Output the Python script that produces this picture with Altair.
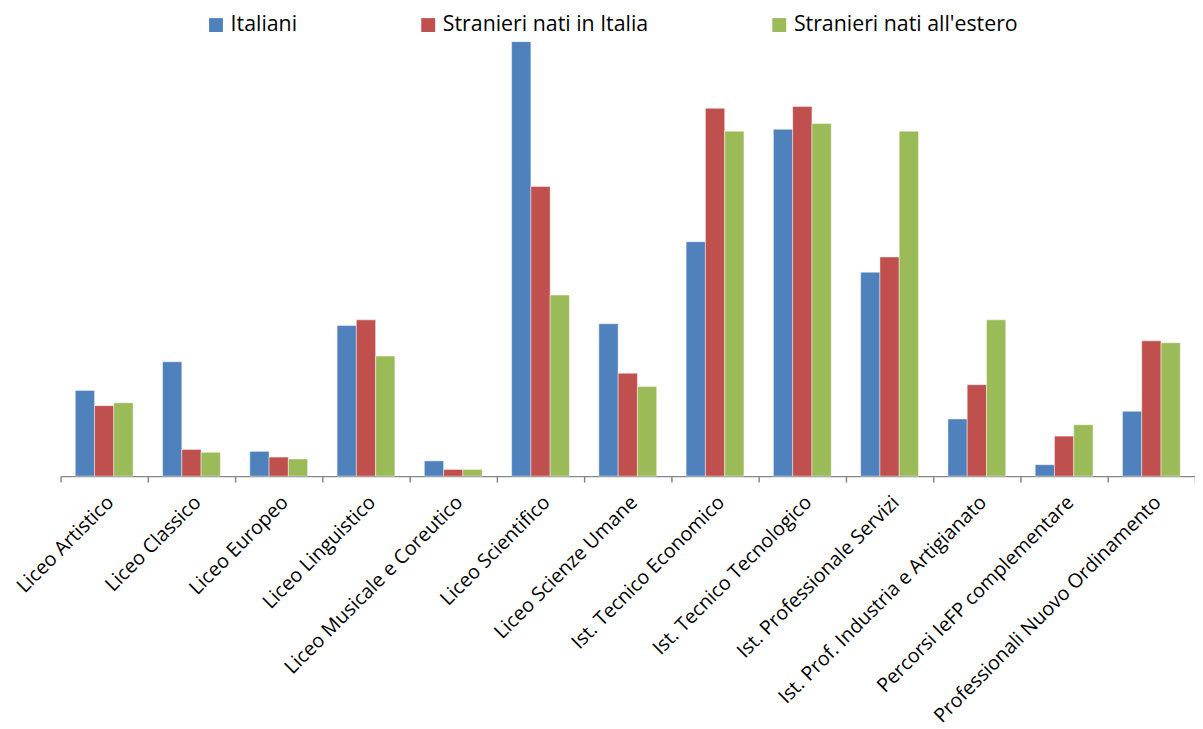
import altair as alt
import pandas as pd

categories = [
    "Liceo Artistico", "Liceo Classico", "Liceo Europeo", "Liceo Linguistico",
    "Liceo Musicale e Coreutico", "Liceo Scientifico", "Liceo Scienze Umane",
    "Ist. Tecnico Economico", "Ist. Tecnico Tecnologico", "Ist. Professionale Servizi",
    "Ist. Prof. Industria e Artigianato", "Percorsi IeFP complementare",
    "Professionali Nuovo Ordinamento",
]
series = ["Italiani", "Stranieri nati in Italia", "Stranieri nati all'estero"]
colors = ["#4F81BD", "#C0504D", "#9BBB59"]

italiani = [4.5, 6.0, 1.3, 7.9, 0.8, 22.8, 8.0, 12.3, 18.2, 10.7, 3.0, 0.6, 3.4]
stranieri_italia = [3.7, 1.4, 1.0, 8.2, 0.35, 15.2, 5.4, 19.3, 19.4, 11.5, 4.8, 2.1, 7.1]
stranieri_estero = [3.85, 1.25, 0.9, 6.3, 0.35, 9.5, 4.7, 18.1, 18.5, 18.1, 8.2, 2.7, 7.0]

rows = []
for vals, s in zip([italiani, stranieri_italia, stranieri_estero], series):
    for c, v in zip(categories, vals):
        rows.append({"categoria": c, "serie": s, "valore": v})
df = pd.DataFrame(rows)

FONT = "Open Sans"

chart = alt.Chart(df).mark_bar(
    stroke="white", strokeOpacity=0.45, strokeWidth=1
).encode(
    x=alt.X(
        "categoria:N", sort=categories, title=None,
        scale=alt.Scale(paddingInner=0, paddingOuter=0),
        axis=alt.Axis(
            labelAngle=-45, labelAlign="right", labelBaseline="middle",
            labelFont=FONT, labelFontSize=19.8, labelColor="#000000",
            labelPadding=17, labelOffset=6, labelLimit=500,
            tickBand="extent", tickSize=6, tickColor="#868686",
            domainColor="#868686", domainWidth=1.5, tickWidth=1.5,
            grid=False,
        ),
    ),
    xOffset=alt.XOffset("serie:N", sort=series,
                        scale=alt.Scale(paddingInner=0, paddingOuter=0.764)),
    y=alt.Y("valore:Q", axis=None, scale=alt.Scale(domain=[0, 23], nice=False, zero=True)),
    color=alt.Color(
        "serie:N", sort=series,
        scale=alt.Scale(domain=series, range=colors),
        legend=alt.Legend(
            title=None, orient="none", direction="horizontal",
            legendX=146, legendY=-24,
            symbolType="square", symbolSize=196, symbolStrokeWidth=0,
            labelFont=FONT, labelFontSize=21.5, labelColor="#000000",
            labelOffset=4, columnPadding=121, labelLimit=500,
        ),
    ),
).properties(
    width=1144, height=442,
    autosize=alt.AutoSizeParams(type="none"),
    padding={"left": 53, "top": 27, "right": 0, "bottom": 262},
).configure_view(stroke=None)

chart.save("out.html", embed_options={"renderer": "svg", "actions": False})
